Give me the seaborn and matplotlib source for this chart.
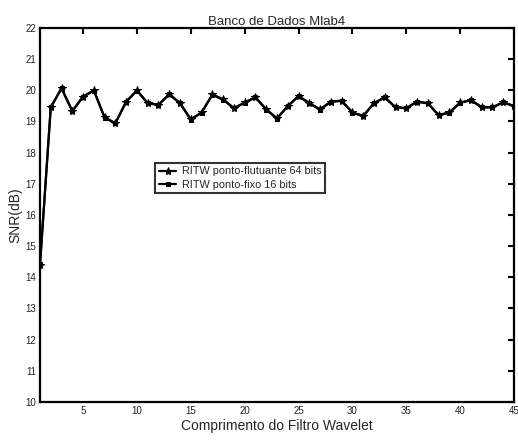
import matplotlib
matplotlib.use("Agg")
import matplotlib.pyplot as plt
import seaborn as sns
import pandas as pd

comprimento = list(range(1, 46))
snr_flutuante = [14.4, 19.46, 20.07, 19.34, 19.8, 20.0, 19.13, 18.95, 19.64, 20.0,
                 19.59, 19.54, 19.88, 19.59, 19.07, 19.29, 19.87, 19.71, 19.43, 19.61,
                 19.78, 19.39, 19.1, 19.5, 19.82, 19.59, 19.39, 19.64, 19.67, 19.29,
                 19.18, 19.59, 19.78, 19.46, 19.43, 19.64, 19.59, 19.21, 19.29, 19.61,
                 19.69, 19.46, 19.46, 19.62, 19.5]
snr_fixo = [14.42, 19.45, 20.06, 19.33, 19.79, 19.99, 19.12, 18.94, 19.63, 19.99,
            19.58, 19.53, 19.87, 19.58, 19.06, 19.28, 19.86, 19.7, 19.42, 19.6,
            19.77, 19.38, 19.09, 19.49, 19.81, 19.58, 19.38, 19.63, 19.66, 19.28,
            19.17, 19.58, 19.77, 19.45, 19.42, 19.63, 19.58, 19.2, 19.28, 19.6,
            19.68, 19.45, 19.45, 19.61, 19.49]
serie_labels = ["RITW ponto-flutuante 64 bits", "RITW ponto-fixo 16 bits"]
x_ticks = [5, 10, 15, 20, 25, 30, 35, 40, 45]
y_ticks = list(range(10, 23))

df = pd.DataFrame({
    "x": comprimento * 2,
    "snr": snr_flutuante + snr_fixo,
    "serie": [serie_labels[0]] * len(comprimento) + [serie_labels[1]] * len(comprimento),
})

sns.set_style("white")
plt.rcParams["font.family"] = ["Liberation Sans", "DejaVu Sans"]

fig = plt.figure(figsize=(5.18, 4.42), dpi=100)
ax = fig.add_axes([0.0772, 0.0905, 0.9151, 0.8462])

sns.lineplot(data=df, x="x", y="snr", hue="serie", style="serie",
             palette=["black", "black"], markers=["*", "s"], dashes=False,
             markersize=3.5, linewidth=1.6, markeredgecolor="black", ax=ax)
ax.lines[0].set_markersize(6)

ax.set_xlim(1, 45)
ax.set_ylim(10, 22)
ax.set_xticks(x_ticks)
ax.set_yticks(y_ticks)
ax.tick_params(direction="in", length=4, width=1.5, labelsize=7,
               top=True, right=True, pad=3, colors="black", labelcolor="#222222")
for s in ax.spines.values():
    s.set_linewidth(1.6)
    s.set_color("black")
    s.set_visible(True)

ax.set_title("Banco de Dados Mlab4", fontsize=9.5, pad=2)
ax.set_xlabel("Comprimento do Filtro Wavelet", fontsize=10, labelpad=2)
ax.set_ylabel("SNR(dB)", fontsize=10, labelpad=2)

leg = ax.legend(loc="upper left", bbox_to_anchor=(0.243, 0.64), fontsize=7.8,
                frameon=True, fancybox=False, handlelength=1.6, borderpad=0.35,
                labelspacing=0.3, handletextpad=0.5, borderaxespad=0)
leg.get_frame().set_edgecolor("black")
leg.get_frame().set_linewidth(1.5)
leg.get_lines()[0].set_markersize(6)

fig.savefig("out.png", dpi=100)
